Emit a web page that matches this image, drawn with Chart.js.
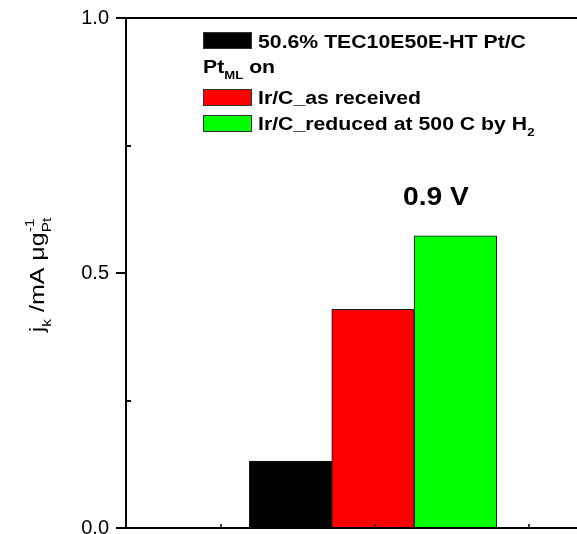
<!DOCTYPE html>
<html><head><meta charset="utf-8">
<script src="https://cdn.jsdelivr.net/npm/chart.js@4.4.0/dist/chart.umd.min.js"></script>
<style>html,body{margin:0;padding:0;background:#fff;overflow:hidden}#wrap{position:relative;width:577px;height:534px}</style>
</head><body><div id="wrap"><canvas id="c" width="577" height="534"></canvas></div>
<script>
// ---- data ----
const categories = ['50.6% TEC10E50E-HT Pt/C', 'Ir/C_as received', 'Ir/C_reduced at 500 C by H2'];
const jkValues = [0.131, 0.429, 0.573];
const barColors = ['#000000', '#ff0000', '#00ff00'];
const yTickValues = [0, 0.5, 1.0];
const yMinorTickValues = [0.25, 0.75];
const xTickValues = [-0.84, 1.02, 2.89];
const potentialLabel = '0.9 V';
const legendHeader = [['Pt', 'n'], ['ML', 'sub'], [' on', 'n']];

const FONT = '"Liberation Sans", Arial, Helvetica, sans-serif';

function richWidth(ctx, segs, size, bold) {
  let w = 0;
  for (const [t, k] of segs) {
    if (k === 'subsup') {
      ctx.font = (bold ? 'bold ' : '') + (size * 0.62) + 'px ' + FONT;
      w += Math.max(ctx.measureText(t[0]).width, ctx.measureText(t[1]).width);
    } else {
      const fs = (k === 'n') ? size : size * 0.62;
      ctx.font = (bold ? 'bold ' : '') + fs + 'px ' + FONT;
      w += ctx.measureText(t).width;
    }
  }
  return w;
}
function drawRich(ctx, segs, x, y, size, bold, sx) {
  ctx.save();
  ctx.translate(x, y);
  ctx.scale(sx, 1);
  ctx.textBaseline = 'alphabetic';
  ctx.textAlign = 'left';
  let cx = 0;
  for (const [t, k] of segs) {
    if (k === 'subsup') {
      ctx.font = (bold ? 'bold ' : '') + (size * 0.62) + 'px ' + FONT;
      ctx.fillText(t[0], cx, size * 0.36);
      ctx.fillText(t[1], cx, -size * 0.48);
      cx += Math.max(ctx.measureText(t[0]).width, ctx.measureText(t[1]).width);
    } else {
      let fs = size, dy = 0;
      if (k === 'sub') { fs = size * 0.62; dy = size * 0.36; }
      if (k === 'sup') { fs = size * 0.62; dy = -size * 0.48; }
      ctx.font = (bold ? 'bold ' : '') + fs + 'px ' + FONT;
      ctx.fillText(t, cx, dy);
      cx += ctx.measureText(t).width;
    }
  }
  ctx.restore();
}

const decorPlugin = {
  id: 'decor',
  afterDraw(chart) {
    const ctx = chart.ctx;
    const ca = chart.chartArea;
    const xs = chart.scales.x, ys = chart.scales.y;
    ctx.save();
    ctx.strokeStyle = '#000';
    ctx.fillStyle = '#000';
    ctx.lineWidth = 2;
    // top axis line
    ctx.beginPath();
    ctx.moveTo(ca.left, ys.getPixelForValue(1.0));
    ctx.lineTo(chart.width, ys.getPixelForValue(1.0));
    ctx.stroke();
    // minor y ticks (inward)
    for (const v of yMinorTickValues) {
      const py = Math.round(ys.getPixelForValue(v));
      ctx.beginPath(); ctx.moveTo(ca.left, py); ctx.lineTo(ca.left + 5, py); ctx.stroke();
    }
    // x ticks (inward)
    ctx.lineWidth = 1.5;
    for (const v of xTickValues) {
      const px = Math.round(xs.getPixelForValue(v));
      ctx.beginPath(); ctx.moveTo(px, ca.bottom); ctx.lineTo(px, ca.bottom - 4); ctx.stroke();
    }
    // y title
    const tsegs = [['j', 'n'], ['k', 'sub'], [' /mA \u03bcg', 'n'], [['Pt', '-1'], 'subsup']];
    const tsize = 20, tsx = 1.25;
    const tw = richWidth(ctx, tsegs, tsize, false) * tsx;
    ctx.save();
    ctx.translate(44, (ca.top + ca.bottom) / 2 + 2);
    ctx.rotate(-Math.PI / 2);
    drawRich(ctx, tsegs, -tw / 2, 0, tsize, false, tsx);
    ctx.restore();
    // legend
    const lsize = 18, lsx = 1.18;
    const boxX = 203, boxW = 49, boxH = 17, textX = 258;
    const rows = [
      { box: 0, top: 32, base: 48, segs: [[categories[0], 'n']] },
      { box: null, top: 0, base: 73, segs: legendHeader },
      { box: 1, top: 89, base: 104, segs: [[categories[1], 'n']] },
      { box: 2, top: 115, base: 130, segs: [[categories[2].slice(0, -1), 'n'], [categories[2].slice(-1), 'sub']] }
    ];
    for (const r of rows) {
      if (r.box !== null) {
        ctx.fillStyle = barColors[r.box];
        ctx.fillRect(boxX, r.top, boxW, boxH);
        ctx.strokeStyle = '#333';
        ctx.lineWidth = 1;
        ctx.strokeRect(boxX + 0.5, r.top + 0.5, boxW - 1, boxH - 1);
        ctx.fillStyle = '#000';
        drawRich(ctx, r.segs, textX, r.base, lsize, true, lsx);
      } else {
        ctx.fillStyle = '#000';
        drawRich(ctx, r.segs, boxX, r.base, lsize, true, lsx);
      }
    }
    // potential annotation
    ctx.fillStyle = '#000';
    drawRich(ctx, [[potentialLabel, 'n']], 403, 205, 25, true, 1.13);
    ctx.restore();
  }
};

new Chart(document.getElementById('c'), {
  type: 'bar',
  data: {
    datasets: [{
      label: 'jk',
      data: jkValues.map((v, i) => ({ x: i, y: v })),
      backgroundColor: barColors,
      borderColor: '#1a1a1a',
      borderWidth: 1,
      barPercentage: 1.0,
      categoryPercentage: 1.0
    }]
  },
  options: {
    responsive: false,
    animation: false,
    devicePixelRatio: 1,
    layout: { padding: { top: 18, left: 0, right: 0, bottom: 0 } },
    plugins: { legend: { display: false }, tooltip: { enabled: false } },
    scales: {
      x: {
        type: 'linear',
        offset: false,
        min: -1.994,
        max: 3.473,
        afterBuildTicks(scale) { scale.ticks = xTickValues.map(v => ({ value: v })); },
        afterFit(scale) { scale.height = 6; scale.paddingLeft = 0; scale.paddingRight = 0; },
        grid: { display: false },
        ticks: { display: false },
        border: { display: true, color: '#000', width: 2 }
      },
      y: {
        min: 0,
        max: 1.0,
        afterBuildTicks(scale) { scale.ticks = yTickValues.map(v => ({ value: v })); },
        afterFit(scale) { scale.width = 126; scale.paddingTop = 0; scale.paddingBottom = 0; },
        grid: { drawOnChartArea: false, color: '#000', lineWidth: 2, tickLength: 10, tickWidth: 2, tickColor: '#000' },
        border: { display: true, color: '#000', width: 2 },
        ticks: {
          color: '#000',
          padding: 7,
          font: { family: FONT, size: 20 },
          callback: v => Number(v).toFixed(1)
        }
      }
    }
  },
  plugins: [decorPlugin]
});
</script>
</body></html>
